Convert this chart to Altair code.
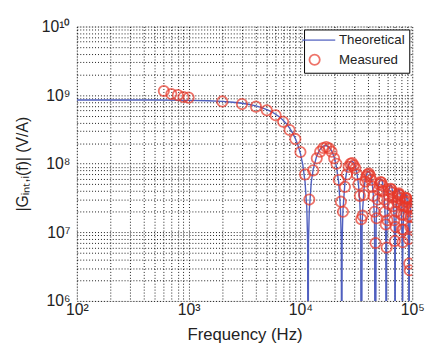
import altair as alt
import pandas as pd

# Theoretical curve (Hz, V/A); nulls dip below the axis
theo_f = [100, 200, 500, 1000, 1500, 2000, 2500, 3000, 3500, 4000, 4500, 5000, 5500,
          6000, 6500, 7000, 7500, 8000, 8500, 9000, 9500, 10000, 10500, 11000, 11400,
          11600, 11700, 11800, 12000, 12500, 13000, 14000, 15000, 16000, 17000, 18000,
          19000, 20000, 21000, 22000, 22800, 23200, 23400, 23600, 24000, 25000, 26000,
          27000, 28000, 29000, 30000, 31000, 32000, 33000, 34000, 34600, 35100, 35600,
          36000, 37000, 38000, 39000, 40000, 41000, 42000, 43000, 44000, 45000, 46000,
          46800, 47500, 48000, 49000, 50000, 51000, 52000, 53000, 54000, 55000, 56000,
          57000, 58000, 58500, 59000, 59500, 60000, 61000, 62000, 63000, 64000, 65000,
          66000, 67000, 68000, 69000, 69800, 70200, 70600, 71000, 72000, 73000, 74000,
          75000, 76000, 77000, 78000, 79000, 80000, 81000, 81500, 81900, 82300, 83000,
          84000, 85000, 86000, 87000, 88000, 89000, 90000, 91000, 92000, 93000, 93600,
          94200, 95000, 96000, 97000, 98000, 99000, 100000]
theo_g = [8.5e8, 8.5e8, 8.48e8, 8.4e8, 8.27e8, 8.1e8, 7.88e8, 7.61e8, 7.3e8, 6.96e8, 6.58e8,
          6.17e8, 5.73e8, 5.27e8, 4.8e8, 4.31e8, 3.81e8, 3.31e8, 2.82e8, 2.33e8, 1.86e8,
          1.4e8, 9.6e7, 5.4e7, 2.24e7, 7.3e6, 1e3, 7.2e6, 2.1e7, 5.4e7, 8.3e7, 1.31e8,
          1.63e8, 1.81e8, 1.84e8, 1.75e8, 1.54e8, 1.25e8, 9.0e7, 5.3e7, 2.23e7, 7.3e6, 1e3,
          7.2e6, 2.1e7, 5.3e7, 7.8e7, 9.6e7, 1.07e8, 1.09e8, 1.03e8, 9.1e7, 7.3e7, 5.1e7,
          2.7e7, 1.23e7, 1e3, 1.2e7, 2.1e7, 4.2e7, 5.9e7, 7.0e7, 7.7e7, 7.7e7, 7.2e7, 6.3e7,
          4.9e7, 3.3e7, 1.47e7, 1e3, 1.24e7, 2.09e7, 3.6e7, 4.8e7, 5.6e7, 6.0e7, 5.9e7,
          5.5e7, 4.65e7, 3.5e7, 2.18e7, 7.3e6, 1e3, 7.2e6, 1.41e7, 2.07e7, 3.23e7, 4.12e7,
          4.7e7, 4.92e7, 4.8e7, 4.33e7, 3.58e7, 2.59e7, 1.46e7, 4.8e6, 1e3, 4.8e6, 9.5e6,
          2.04e7, 2.96e7, 3.65e7, 4.05e7, 4.17e7, 3.98e7, 3.51e7, 2.82e7, 1.93e7, 9.4e6,
          4.2e6, 1e3, 4.2e6, 1.11e7, 2.01e7, 2.75e7, 3.28e7, 3.56e7, 3.59e7, 3.36e7, 2.9e7,
          2.23e7, 1.43e7, 5.5e6, 1e3, 5.4e6, 1.22e7, 1.98e7, 2.58e7, 2.99e7, 3.17e7, 3.13e7]

# Measured points (Hz, V/A)
meas_f = [600, 700, 800, 900, 1000, 2000, 3000, 4000, 5000, 6000, 7000, 8000, 9000,
          10000, 11000, 12000, 13000, 14000, 15000, 16000, 17000, 18000, 19000, 20000,
          21000, 22000, 23000, 24000, 25000, 26000, 27000, 28000, 29000, 30000, 31000,
          32000, 33000, 34000, 35000, 36000, 37000, 38000, 39000, 40000, 41000, 42000,
          43000, 44000, 45000, 46000, 47000, 48000, 49000, 50000, 51000, 52000, 53000,
          54000, 55000, 56000, 57000, 58000, 59000, 60000, 61000, 62000, 63000, 64000,
          65000, 66000, 67000, 68000, 69000, 70000, 71000, 72000, 73000, 74000, 75000,
          76000, 77000, 78000, 79000, 80000, 81000, 82000, 83000, 84000, 85000, 86000,
          87000, 88000, 89000, 90000, 91000, 92000, 93000, 94000, 95000, 96000, 97000,
          98000, 99000, 100000]
meas_g = [1.15e9, 1.04e9, 1.0e9, 9.4e8, 9.2e8, 8.1e8, 7.4e8, 6.8e8, 6.0e8, 5.1e8, 4.1e8,
          3.1e8, 2.3e8, 1.48e8, 7.0e7, 3.0e7, 8.0e7, 1.2e8, 1.5e8, 1.7e8, 1.75e8, 1.68e8,
          1.5e8, 1.2e8, 1.0e8, 5.8e7, 2.8e7, 2.0e7, 4.6e7, 7.0e7, 9.0e7, 1.0e8, 1.02e8,
          9.5e7, 8.6e7, 7.0e7, 5.0e7, 3.4e7, 1.55e7, 1.75e7, 3.5e7, 5.5e7, 6.5e7, 7.0e7,
          7.2e7, 6.6e7, 5.8e7, 4.6e7, 3.4e7, 2.0e7, 7.0e6, 1.6e7, 3.0e7, 4.2e7, 5.0e7,
          5.4e7, 5.3e7, 4.8e7, 4.0e7, 3.0e7, 2.0e7, 1.3e7, 6.0e6, 1.5e7, 2.6e7, 3.4e7,
          4.0e7, 4.3e7, 4.2e7, 3.8e7, 3.2e7, 2.4e7, 1.5e7, 7.5e6, 1.2e7, 2.0e7, 2.8e7,
          3.3e7, 3.6e7, 3.7e7, 3.5e7, 3.1e7, 2.5e7, 1.8e7, 1.1e7, 7.2e6, 1.1e7, 1.8e7,
          2.4e7, 2.8e7, 3.1e7, 3.2e7, 3.1e7, 2.8e7, 2.3e7, 1.7e7, 8.0e6, 3.5e6, 2.8e6,
          1.2e7, 1.7e7, 2.2e7, 2.4e7, 2.0e7]

series = ["Theoretical", "Measured"]
series_colors = ["#4f5fbf", "#e8392a"]
series_shapes = ["M-2.4,0L4.0,0", "circle"]

x_ticks = [100, 200, 300, 400, 500, 600, 700, 800, 900,
           1000, 2000, 3000, 4000, 5000, 6000, 7000, 8000, 9000,
           10000, 20000, 30000, 40000, 50000, 60000, 70000, 80000, 90000, 100000]
x_labels = {100: "10²", 1000: "10³", 10000: "10⁴", 100000: "10⁵"}
y_ticks = [m * 10 ** e for e in range(6, 10) for m in range(1, 10)] + [10 ** 10]
y_labels = {10 ** 6: "10⁶", 10 ** 7: "10⁷", 10 ** 8: "10⁸", 10 ** 9: "10⁹", 10 ** 10: "10¹⁰"}


def label_expr(mapping):
    expr = "''"
    for v, t in mapping.items():
        expr = f"datum.value == {v} ? '{t}' : ({expr})"
    return expr


theo = pd.DataFrame({"f": theo_f, "g": theo_g, "series": "Theoretical"})
meas = pd.DataFrame({"f": meas_f, "g": meas_g, "series": "Measured"})

FONT = "Liberation Sans"
grid_style = dict(grid=True, gridColor="#000000", gridDash=[1, 2], gridOpacity=0.9,
                  gridWidth=1, ticks=False, domain=False, labelFlush=False,
                  labelOverlap=False, labelFont=FONT, titleFont=FONT,
                  labelColor="#222", titleColor="#222", titleFontWeight="normal")

x_enc = alt.X("f:Q", scale=alt.Scale(type="log", domain=[100, 100000], nice=False),
              axis=alt.Axis(values=x_ticks, labelExpr=label_expr(x_labels),
                            title="Frequency (Hz)", labelFontSize=16, labelPadding=1,
                            titleFontSize=17, titlePadding=9, **grid_style))
y_enc = alt.Y("g:Q", scale=alt.Scale(type="log", domain=[1e6, 1e10], nice=False),
              axis=alt.Axis(values=y_ticks, labelExpr=label_expr(y_labels),
                            title="|Gᵢₙₜ,ᵢ(f)| (V/A)", labelFontSize=16, labelPadding=7,
                            titleFontSize=16, titlePadding=11, **grid_style))

color = alt.Color("series:N", scale=alt.Scale(domain=series, range=series_colors),
                  title=None,
                  legend=alt.Legend(orient="top-right", offset=3, labelFontSize=13.5,
                                    strokeColor="black", fillColor="white", padding=4,
                                    labelFont=FONT, labelColor="#222", rowPadding=3,
                                    symbolSize=110, symbolStrokeWidth=1.8,
                                    labelOffset=18))
shape = alt.Shape("series:N", scale=alt.Scale(domain=series, range=series_shapes),
                  title=None)

line = alt.Chart(theo).mark_line(clip=True, strokeWidth=1.4).encode(
    x=x_enc, y=y_enc, color=color)
points = alt.Chart(meas).mark_point(filled=False, size=110, strokeWidth=1.8,
                                    clip=True).encode(
    x=x_enc, y=y_enc, color=color, shape=shape)

chart = alt.layer(line, points).properties(
    width=341, height=279,
    autosize=alt.AutoSizeParams(type="none"),
    padding={"left": 70, "top": 16, "right": 14, "bottom": 44},
).configure_view(stroke="black", strokeWidth=1.6).configure(background="white")

chart.save("out.html", embed_options={"renderer": "svg", "actions": False})
